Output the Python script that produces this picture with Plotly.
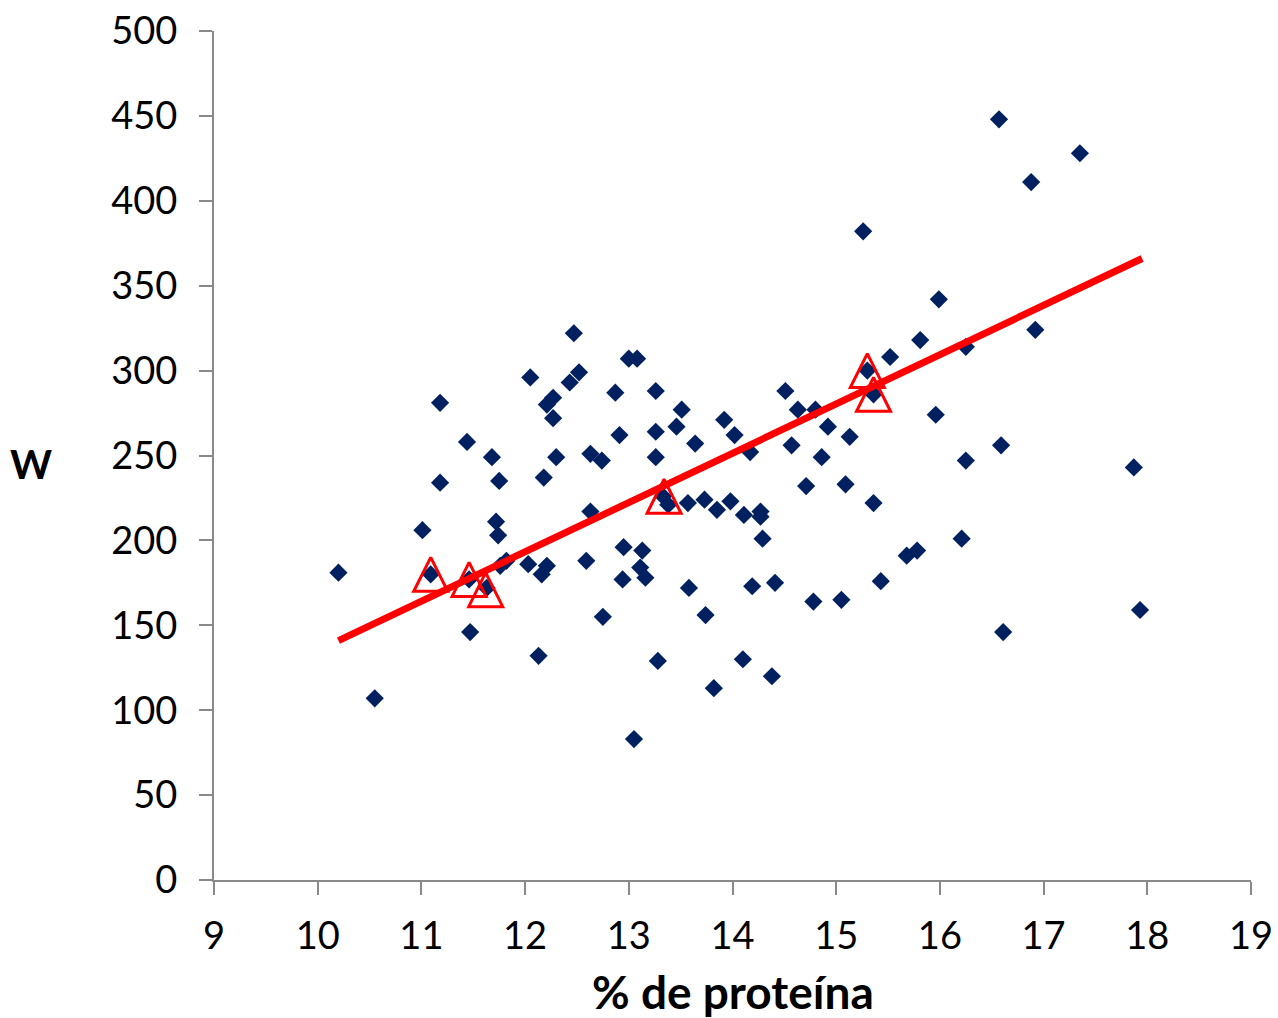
import plotly.graph_objects as go

# Scatter data: % de proteína vs W
protein = [10.20, 10.55, 11.01, 11.09, 11.18, 11.18, 11.44, 11.47, 11.46, 11.63,
           11.68, 11.72, 11.74, 11.75, 11.76, 11.82, 12.03, 12.05, 12.13, 12.16,
           12.18, 12.21, 12.21, 12.27, 12.27, 12.30, 12.43, 12.47, 12.52, 12.59,
           12.63, 12.63, 12.74, 12.75, 12.87, 12.91, 12.94, 12.95, 13.00, 13.05,
           13.08, 13.11, 13.13, 13.16, 13.26, 13.26, 13.26, 13.28, 13.33, 13.38,
           13.46, 13.51, 13.57, 13.58, 13.64, 13.73, 13.74, 13.82, 13.85, 13.92,
           13.98, 14.02, 14.10, 14.11, 14.17, 14.19, 14.27, 14.27, 14.29, 14.38,
           14.41, 14.51, 14.57, 14.63, 14.71, 14.78, 14.80, 14.86, 14.92, 15.05,
           15.09, 15.13, 15.26, 15.30, 15.36, 15.36, 15.43, 15.52, 15.68, 15.78,
           15.81, 15.96, 15.99, 16.21, 16.25, 16.25, 16.57, 16.59, 16.61, 16.88,
           16.92, 17.35, 17.87, 17.93]
w_values = [181, 107, 206, 180, 281, 234, 258, 146, 177, 172,
            249, 211, 203, 235, 185, 188, 186, 296, 132, 180,
            237, 185, 280, 284, 272, 249, 293, 322, 299, 188,
            251, 217, 247, 155, 287, 262, 177, 196, 307, 83,
            307, 184, 194, 178, 288, 264, 249, 129, 226, 221,
            267, 277, 222, 172, 257, 224, 156, 113, 218, 271,
            223, 262, 130, 215, 252, 173, 217, 214, 201, 120,
            175, 288, 256, 277, 232, 164, 277, 249, 267, 165,
            233, 261, 382, 300, 286, 222, 176, 308, 191, 194,
            318, 274, 342, 201, 314, 247, 448, 256, 146, 411,
            324, 428, 243, 159]

# Highlighted points (red triangles)
tri_protein = [11.09, 11.46, 11.62, 13.34, 15.30, 15.36]
tri_w = [180, 177, 171, 226, 300, 286]

# Trend line
trend_protein = [10.20, 17.95]
trend_w = [141, 366]

x_ticks = list(range(9, 20))
y_ticks = list(range(0, 501, 50))

FONT = "Century Gothic, URW Gothic, Lato, sans-serif"
AXIS_COLOR = "#898989"

fig = go.Figure()
fig.add_trace(go.Scatter(
    x=protein, y=w_values, mode="markers",
    marker=dict(symbol="diamond", size=14, color="#002060", line=dict(width=0)),
    showlegend=False, hoverinfo="x+y", cliponaxis=False))
fig.add_trace(go.Scatter(
    x=trend_protein, y=trend_w, mode="lines",
    line=dict(color="#FF0000", width=7),
    showlegend=False, hoverinfo="skip"))
fig.add_trace(go.Scatter(
    x=tri_protein, y=tri_w, mode="markers",
    marker=dict(symbol="arrow-down-open", angle=180, standoff=17, size=34,
                color="#FF0000", line=dict(width=3, color="#FF0000")),
    showlegend=False, hoverinfo="x+y"))

fig.update_layout(
    width=1278, height=1018,
    margin=dict(l=214, r=27, t=31, b=138),
    paper_bgcolor="white", plot_bgcolor="white",
    font=dict(family=FONT, color="black", size=38),
    xaxis=dict(
        range=[9, 19], tickvals=x_ticks, ticktext=[str(v) for v in x_ticks],
        showgrid=False, zeroline=False, showline=True, linecolor=AXIS_COLOR, linewidth=2,
        ticks="outside", ticklen=13, tickwidth=2, tickcolor=AXIS_COLOR,
        tickfont=dict(family=FONT, size=38, color="black"),
        ticklabelstandoff=8, automargin=False,
    ),
    yaxis=dict(
        range=[0, 500], tickvals=y_ticks, ticktext=[str(v) for v in y_ticks],
        showgrid=False, zeroline=False, showline=True, linecolor=AXIS_COLOR, linewidth=2,
        ticks="outside", ticklen=13, tickwidth=2, tickcolor=AXIS_COLOR,
        tickfont=dict(family=FONT, size=38, color="black"),
        ticklabelstandoff=14, automargin=False,
    ),
    annotations=[
        dict(text="<b>W</b>", xref="paper", yref="paper", x=-0.176, y=0.49,
             xanchor="center", yanchor="middle", showarrow=False,
             font=dict(family=FONT, size=40, color="black")),
        dict(text="<b>% de proteína</b>", xref="paper", yref="paper", x=0.5, y=-0.131,
             xanchor="center", yanchor="middle", showarrow=False,
             font=dict(family=FONT, size=46, color="black")),
    ],
)

fig.write_html("out.html")
